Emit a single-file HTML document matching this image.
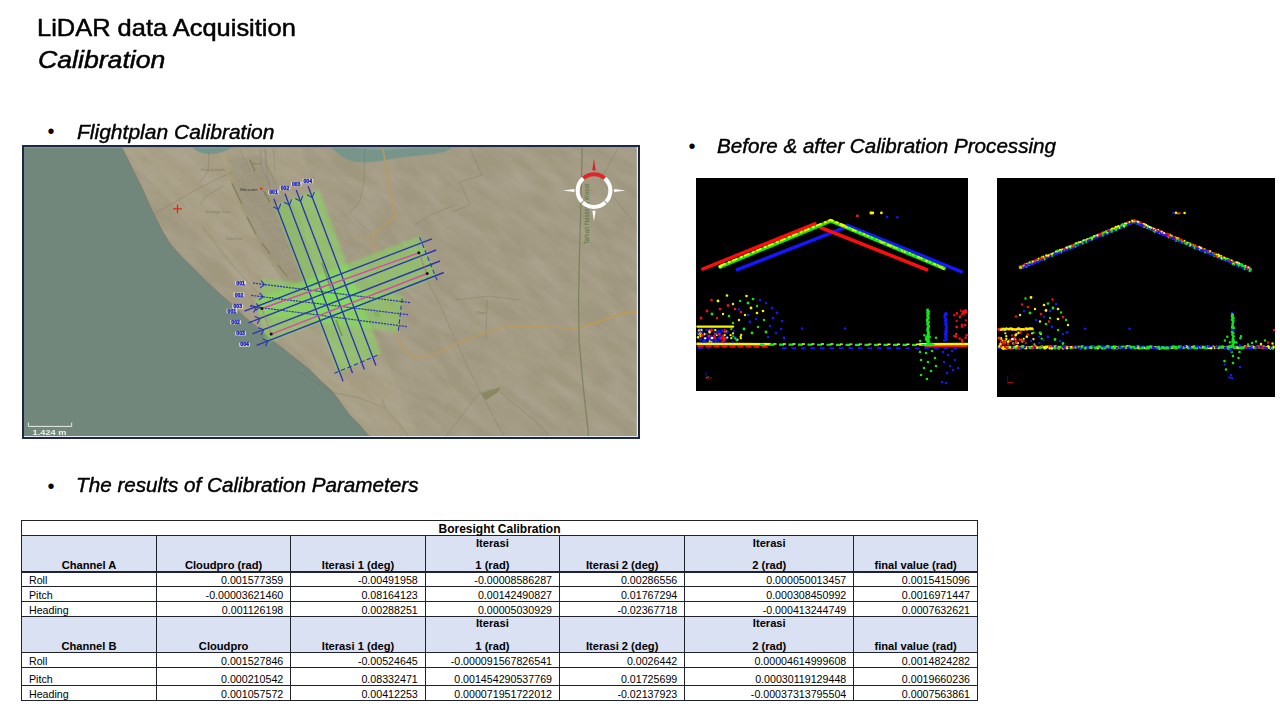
<!DOCTYPE html>
<html lang="en"><head><meta charset="utf-8"><title>LiDAR data Acquisition - Calibration</title>
<style>
html,body{margin:0;padding:0;background:#fff;}
body{width:1280px;height:720px;position:relative;overflow:hidden;font-family:"Liberation Sans",sans-serif;color:#000;}
.abs{position:absolute;white-space:nowrap;}
svg{position:absolute;display:block;}

.t1{left:37.2px;top:12.3px;font-size:24px;line-height:31px;transform-origin:0 0;transform:scaleX(1.06);-webkit-text-stroke:0.5px #000;}
.t2{left:37.8px;top:44.2px;font-size:24px;line-height:31px;font-style:italic;transform-origin:0 0;transform:scaleX(1.11);-webkit-text-stroke:0.5px #000;}
.bl{font-size:20px;line-height:24px;font-style:italic;transform-origin:0 0;-webkit-text-stroke:0.42px #000;}
.dot{font-size:20px;line-height:24px;}


.tb{position:absolute;left:0;top:0;font-size:10.67px;line-height:12px;}
.tb .c{position:absolute;white-space:nowrap;}
.tb .h{font-weight:bold;text-align:center;font-size:11.15px;}
.tb .tt{font-size:12px;}
.tb .r{text-align:right;}
.tb .ln{position:absolute;background:#20232b;}
.tb .bg{position:absolute;background:#dae1f3;}

</style></head><body>

<div class="abs t1" id="t1">LiDAR data Acquisition</div>
<div class="abs t2" id="t2">Calibration</div>
<div class="abs dot" style="left:47.6px;top:119px">•</div>
<div class="abs bl" id="b1" style="left:77.3px;top:119.5px;transform:scaleX(1.051)">Flightplan Calibration</div>
<div class="abs dot" style="left:688.4px;top:133.9px">•</div>
<div class="abs bl" id="b2" style="left:717px;top:133.5px;transform:scaleX(1.03)">Before &amp; after Calibration Processing</div>
<div class="abs dot" style="left:47.6px;top:473.9px">•</div>
<div class="abs bl" id="b3" style="left:75.9px;top:473.4px;transform:scaleX(1.034)">The results of Calibration Parameters</div>

<svg style="left:22px;top:145px" width="618" height="294" viewBox="22 145 618 294" font-family="Liberation Sans, sans-serif">
<defs>
<filter id="tex" x="0" y="0" width="100%" height="100%"><feTurbulence type="fractalNoise" baseFrequency="0.028 0.085" numOctaves="3" seed="7" result="n"/><feColorMatrix in="n" type="matrix" values="0 0 0 0 0.5  0 0 0 0 0.47  0 0 0 0 0.38  0.9 0.9 0 0 -0.62"/></filter>
<filter id="sf" x="-2%" y="-2%" width="104%" height="104%"><feGaussianBlur stdDeviation="0.45"/></filter>
<filter id="sf2" x="-2%" y="-2%" width="104%" height="104%"><feGaussianBlur stdDeviation="1.1"/></filter>
<filter id="tn" x="0" y="0" width="100%" height="100%"><feTurbulence type="fractalNoise" baseFrequency="0.45" numOctaves="2" seed="3"/><feColorMatrix type="matrix" values="0 0 0 0 0.33  0 0 0 0 0.3  0 0 0 0 0.22  1.6 1.2 0 0 -1.05"/></filter>
<clipPath id="tc"><path d="M228,156 L262,154 L284,196 L300,215 L322,292 L296,300 L262,250 L236,196 Z"/></clipPath>
<clipPath id="mc"><rect x="22" y="145" width="618" height="294"/></clipPath>
</defs>
<g clip-path="url(#mc)">
<rect x="22" y="145" width="618" height="294" fill="#a0977f"/>
<path d="M121,145 L300,145 L330,230 L420,439 L372,439 Z" fill="#b0a68a" opacity="0.35" filter="url(#sf2)"/>
<g transform="rotate(38 331 292)"><rect x="-30" y="-110" width="760" height="800" filter="url(#tex)" opacity="0.5"/></g>
<path d="M22,145 L120.6,145 L128.8,161.2 L136.2,176.2 L143.1,190 L150,206.2 L155,216.2 L162.5,231.2 L170,243.8 L181.2,256.2 L193.8,268.8 L206.2,281.2 L220,293.8 L232.5,305 L245,317.5 L256.2,326.2 L270,338.8 L285,350 L297.5,360 L309,369 L320,380.3 L330,389 L336,396.2 L343,406 L349.2,414.8 L360,425.5 L371.5,439 L22,439 Z" fill="#71877b"/>
<path d="M120.6,145 L128.8,161.2 L136.2,176.2 L143.1,190 L150,206.2 L155,216.2 L162.5,231.2 L170,243.8 L181.2,256.2 L193.8,268.8 L206.2,281.2 L220,293.8 L232.5,305 L245,317.5 L256.2,326.2 L270,338.8 L285,350 L297.5,360 L309,369 L320,380.3 L330,389 L336,396.2 L343,406 L349.2,414.8 L360,425.5 L371.5,439" fill="none" stroke="#7d7a68" stroke-width="0.9" opacity="0.8" filter="url(#sf)"/>
<path d="M190,145 C194,150 199,153.2 208.75,153.9 C218,154 228,151.5 235,145 Z" fill="#78958c"/>
<path d="M329,145 C336,152 341,157 348,160 C356,163 368,163.2 382.5,160.5 C395,158 410,156 432.5,154.2 C442,153 448,151 453.5,147 L454,145 Z" fill="#78958c"/>
<path d="M346,145 C360,150 385,152 412,147.5 L414,145 Z" fill="#8aa59a" opacity="0.55"/>
<g fill="none" stroke="#6f6a58" stroke-width="0.7" opacity="0.4" filter="url(#sf)">
<path d="M154,214 L178,200 L196,190 L215,180 L232,172"/>
<path d="M178,200 L186,208 M200,205 L205,197 L223,186"/>
<path d="M202,226 L230,262 L262,298"/>
<path d="M209,152 L208,172 L200,182"/>
<path d="M365,145 L364,180 L360,201 L350,212.5"/>
<path d="M353.75,217.5 L372.5,235"/>
<path d="M260,150 L262,170 L270,186 M266,150 L267,166 L276,184"/>
<path d="M415,225 L432,214 L455,205"/>
<path d="M418,245 L428,282 L440,305 L452,332 L470,372 L490,410 L505,439"/>
<path d="M455,300 L490,296 L520,300 M487,300 L486,340"/>
<path d="M300,372 L330,392 L360,398 L385,408 L400,425 L410,439"/>
<path d="M385,408 L382,399 M444,439 L478,394 L492,389"/>
<path d="M500,392 L540,425 L552,439 M620,145 L600,180 L640,230"/>
<path d="M240,150 L250,170 M470,148 L482,175 L460,182 L470,205 L452,212"/>
</g>
<g fill="none" filter="url(#sf)">
<path d="M226.2,153.6 L228.6,168 L231.8,182.5 L238,197 L245.7,215 L256,234 L268.75,252 L287.5,277 L300,292" stroke="#ab9c55" stroke-width="1.6" opacity="0.55"/>
<path d="M249.5,157.3 L258,176 L270.9,202.9" stroke="#ab9c55" stroke-width="1.4" opacity="0.5"/>
<path d="M226.6,157.3 L249.5,157.3" stroke="#b5a660" stroke-width="0.8" opacity="0.5"/>
<path d="M231.8,182.9 L242,203.9 M247,217 L256,234 M262,243 L270,254 M278,265 L287,276.5" stroke="#4f4a2c" stroke-width="1.1" opacity="0.5"/>
<path d="M249.9,160.1 L255,171.3 M263.4,190.8 L269.9,202" stroke="#4f4a2c" stroke-width="1.2" opacity="0.55"/>
<path d="M264.3,148 L267.1,175.9 L269.9,189 M273.7,148 L274.6,171.3" stroke="#6f6a58" stroke-width="0.6" opacity="0.45"/>
<path d="M232,168 L258,159 M236.2,176.2 L262.2,167.2 M240.4,184.4 L266.4,175.4 M244.6,192.6 L270.6,183.6 M248.8,200.8 L274.8,191.8 M253,209 L279,200 M257.2,217.2 L283.2,208.2 M261.4,225.4 L287.4,216.4 M265.6,233.6 L291.6,224.6 M269.8,241.8 L295.8,232.8 M274,250 L300,241 M278.2,258.2 L304.2,249.2 M282.4,266.4 L308.4,257.4 M286.6,274.6 L312.6,265.6 M236,166 L280,264 M240.4,164.4 L284.4,262.4 M244.8,162.8 L288.8,260.8 M249.2,161.2 L293.2,259.2 M253.6,159.6 L297.6,257.6 M258,158 L302,256 M262.4,156.4 L306.4,254.4" stroke="#5e5a48" stroke-width="0.5" opacity="0.13"/>
</g>
<g clip-path="url(#tc)" opacity="0.5"><rect x="222" y="150" width="104" height="154" filter="url(#tn)"/></g>
<path d="M228,158 L262,156 L300,215 L320,290 L296,300 L262,250 L236,196 Z" fill="#8a846f" opacity="0.22" filter="url(#sf2)"/>
<path d="M382,145 L385,160 L390,190 L395,216.25 L372.5,235 L375,250 L380,270 L388,305 L395.7,332.5 L400,343 L405,351.1 L412,356 L421,357.7 L432,355 L458.1,343.1 L482,334 L506,325.9 L540,326.5 L575,328.5 L598,322 L620.1,313.9 L640,311" fill="none" stroke="#ba9a5e" stroke-width="1.6" opacity="0.9" filter="url(#sf)"/>
<path d="M372.5,235 L337.5,243.75 L281.25,261.25" fill="none" stroke="#b49c66" stroke-width="1" opacity="0.5" filter="url(#sf)"/>
<path d="M575,328.5 L598,322 L620.1,313.9 L640,311" fill="none" stroke="#b99a60" stroke-width="2.3" opacity="0.85" filter="url(#sf)"/>
<path d="M582.3,145 L581,200 L579.3,260 L578.6,300 L579,340 L583,385 L588,430 L588.8,439" fill="none" stroke="#76825c" stroke-width="1.3" opacity="0.9" filter="url(#sf)"/>
<text transform="translate(588.6,244.5) rotate(-90)" font-size="6.3" fill="#4f7a3e" textLength="61" lengthAdjust="spacingAndGlyphs">Taman Nasional Wasur</text>
<path d="M480.7,393.6 L500.6,387 L498,392.3 L486,400.2 Z" fill="#8a8962" filter="url(#sf)"/>
<rect x="374" y="312" width="6" height="4.5" fill="#7f8f63" opacity="0.7" filter="url(#sf)"/>
<g fill="#78ee50" filter="url(#sf2)">
<path d="M274,204.9 L318.9,189.3 L380.9,353.5 L338.1,373.7 Z" opacity="0.39"/>
<path d="M255,299.6 L420,235.8 L437,277.3 L266.7,343.6 Z" opacity="0.39"/>
<path d="M261.7,278.1 L403.7,295.8 L398.2,332.5 L258.5,314.4 Z" opacity="0.36"/>
</g>
<path d="M322,263 L331,289" stroke="#5d7a48" stroke-width="1.6" opacity="0.6" fill="none" filter="url(#sf)"/>
<path d="M336,320 L342,336" stroke="#5d7a48" stroke-width="1.8" opacity="0.55" fill="none" filter="url(#sf)"/>
<g fill="none" stroke="#2c35b4" stroke-width="1.35" stroke-linecap="butt" filter="url(#sf)">
<path d="M273.8,198.8 L343.1,381.2"/>
<path d="M285,193.8 L352.5,373.1"/>
<path d="M296.2,190 L364.4,369.4"/>
<path d="M308.1,186.2 L375.9,365.6"/>
<path d="M244.4,311.2 L431.9,238.8"/>
<path d="M248.5,322.8 L436.2,250"/>
<path d="M252.5,333.8 L440,261"/>
<path d="M256.6,345.4 L443.8,272.5"/>
<path d="M253.1,283.1 L410,302.6" stroke-dasharray="2.1 0.9" stroke-width="1.2"/>
<path d="M251.2,295.4 L408.8,314.8" stroke-dasharray="2.1 0.9" stroke-width="1.2"/>
<path d="M250,306.2 L406.9,326.6" stroke-dasharray="2.1 0.9" stroke-width="1.2"/>
<path d="M280.7,203.8 L278.5,209.4 L273.2,206.7" stroke-width="1.1"/>
<path d="M291.6,199.4 L289.4,205 L284.1,202.2" stroke-width="1.1"/>
<path d="M302.8,195.7 L300.6,201.2 L295.3,198.5" stroke-width="1.1"/>
<path d="M314.4,191.9 L312.2,197.5 L306.9,194.7" stroke-width="1.1"/>
<path d="M250.8,305.2 L256.2,307.2 L253.6,312.4" stroke-width="1.1"/>
<path d="M254.6,316.4 L260,318.5 L257.4,323.7" stroke-width="1.1"/>
<path d="M258.3,327.7 L263.8,329.8 L261.1,334.9" stroke-width="1.1"/>
<path d="M262.7,338.9 L268.1,341 L265.5,346.2" stroke-width="1.1"/>
<path d="M261.1,280.6 L264.4,284.6 L260.2,287.7" stroke-width="1.1"/>
<path d="M259.8,292.8 L263.1,296.8 L258.9,299.9" stroke-width="1.1"/>
<path d="M256.4,303.3 L259.6,307.4 L255.4,310.5" stroke-width="1.1"/>
<path d="M334.5,373.3 L377.5,355.3" stroke-dasharray="4.5 2.5" stroke-width="1.1"/>
<path d="M419.6,237.2 L437.2,280.6" stroke-dasharray="4.5 2.5" stroke-width="1.1"/>
<path d="M402.1,298.5 L398.3,331.5" stroke-dasharray="4.5 2.5" stroke-width="1.1"/>
</g>
<g fill="none" stroke="#dc44ae" filter="url(#sf)">
<path d="M261.9,308.5 L418.8,252.8" stroke-width="1.35"/>
<path d="M271.2,334.1 L427.2,273.5" stroke-width="1.35"/>
<path d="M261.9,308.5 L271.25,334.1 M418.75,252.75 L427.25,273.5" stroke-width="0.7" opacity="0.8"/>
</g>
<circle cx="261.9" cy="308.5" r="1.5" fill="#1a0a14" filter="url(#sf)"/>
<circle cx="418.8" cy="252.8" r="1.5" fill="#1a0a14" filter="url(#sf)"/>
<circle cx="271.2" cy="334.1" r="1.5" fill="#1a0a14" filter="url(#sf)"/>
<circle cx="427.2" cy="273.5" r="1.5" fill="#1a0a14" filter="url(#sf)"/>
<g filter="url(#sf)">
<rect x="268.1" y="190.1" width="10.8" height="4.4" rx="0.8" fill="#e6e2be" opacity="0.92"/><text x="273.5" y="194" text-anchor="middle" font-size="4.9" font-weight="bold" fill="#1a1ed0" stroke="#1a1ed0" stroke-width="0.35" textLength="8.6" lengthAdjust="spacingAndGlyphs">001</text>
<rect x="279.6" y="185.9" width="10.8" height="4.4" rx="0.8" fill="#e6e2be" opacity="0.92"/><text x="285" y="189.8" text-anchor="middle" font-size="4.9" font-weight="bold" fill="#1a1ed0" stroke="#1a1ed0" stroke-width="0.35" textLength="8.6" lengthAdjust="spacingAndGlyphs">002</text>
<rect x="290.9" y="181.8" width="10.8" height="4.4" rx="0.8" fill="#e6e2be" opacity="0.92"/><text x="296.2" y="185.8" text-anchor="middle" font-size="4.9" font-weight="bold" fill="#1a1ed0" stroke="#1a1ed0" stroke-width="0.35" textLength="8.6" lengthAdjust="spacingAndGlyphs">003</text>
<rect x="302.4" y="178.8" width="10.8" height="4.4" rx="0.8" fill="#e6e2be" opacity="0.92"/><text x="307.8" y="182.8" text-anchor="middle" font-size="4.9" font-weight="bold" fill="#1a1ed0" stroke="#1a1ed0" stroke-width="0.35" textLength="8.6" lengthAdjust="spacingAndGlyphs">004</text>
<rect x="235.2" y="280.7" width="10.8" height="4.4" rx="0.8" fill="#e6e2be" opacity="0.92"/><text x="240.6" y="284.6" text-anchor="middle" font-size="4.9" font-weight="bold" fill="#1a1ed0" stroke="#1a1ed0" stroke-width="0.35" textLength="8.6" lengthAdjust="spacingAndGlyphs">001</text>
<rect x="233.6" y="292.6" width="10.8" height="4.4" rx="0.8" fill="#e6e2be" opacity="0.92"/><text x="239" y="296.5" text-anchor="middle" font-size="4.9" font-weight="bold" fill="#1a1ed0" stroke="#1a1ed0" stroke-width="0.35" textLength="8.6" lengthAdjust="spacingAndGlyphs">002</text>
<rect x="232.3" y="304.4" width="10.8" height="4.4" rx="0.8" fill="#e6e2be" opacity="0.92"/><text x="237.8" y="308.4" text-anchor="middle" font-size="4.9" font-weight="bold" fill="#1a1ed0" stroke="#1a1ed0" stroke-width="0.35" textLength="8.6" lengthAdjust="spacingAndGlyphs">003</text>
<rect x="226.5" y="308.7" width="10.8" height="4.4" rx="0.8" fill="#e6e2be" opacity="0.92"/><text x="231.9" y="312.6" text-anchor="middle" font-size="4.9" font-weight="bold" fill="#1a1ed0" stroke="#1a1ed0" stroke-width="0.35" textLength="8.6" lengthAdjust="spacingAndGlyphs">001</text>
<rect x="230.2" y="319.9" width="10.8" height="4.4" rx="0.8" fill="#e6e2be" opacity="0.92"/><text x="235.6" y="323.9" text-anchor="middle" font-size="4.9" font-weight="bold" fill="#1a1ed0" stroke="#1a1ed0" stroke-width="0.35" textLength="8.6" lengthAdjust="spacingAndGlyphs">002</text>
<rect x="235.2" y="331.2" width="10.8" height="4.4" rx="0.8" fill="#e6e2be" opacity="0.92"/><text x="240.6" y="335.1" text-anchor="middle" font-size="4.9" font-weight="bold" fill="#1a1ed0" stroke="#1a1ed0" stroke-width="0.35" textLength="8.6" lengthAdjust="spacingAndGlyphs">003</text>
<rect x="239.2" y="342.4" width="10.8" height="4.4" rx="0.8" fill="#e6e2be" opacity="0.92"/><text x="244.6" y="346.4" text-anchor="middle" font-size="4.9" font-weight="bold" fill="#1a1ed0" stroke="#1a1ed0" stroke-width="0.35" textLength="8.6" lengthAdjust="spacingAndGlyphs">004</text>
</g>
<g fill="#5f5b4c" opacity="0.5" filter="url(#sf)" lengthAdjust="spacingAndGlyphs">
<text x="201" y="171" font-size="4.2" textLength="24" lengthAdjust="spacingAndGlyphs">Karang Indah</text>
<text x="205.6" y="213.3" font-size="4.2" textLength="25" lengthAdjust="spacingAndGlyphs">Seringgu Jaya</text>
<text x="226.6" y="240.2" font-size="3.6" textLength="15.5" lengthAdjust="spacingAndGlyphs">Bambu Pemali</text>
<text x="252.5" y="164.8" font-size="3.8" textLength="8.5" lengthAdjust="spacingAndGlyphs">Maro</text>
<text x="476.5" y="313.8" font-size="3.8" textLength="10" lengthAdjust="spacingAndGlyphs">Wasur</text>
</g>
<text x="240.1" y="190.9" font-size="4.4" fill="#2c2a22" opacity="0.85" textLength="17.6" lengthAdjust="spacingAndGlyphs" filter="url(#sf)">Merauke</text>
<circle cx="261.3" cy="188.7" r="1.3" fill="#e0301c" filter="url(#sf)"/>
<path d="M173,208.8 H182 M177.5,204.4 V213.2" stroke="#e0281c" stroke-width="1.3" fill="none" filter="url(#sf)"/>
<g filter="url(#sf)">
<path d="M582.2,176.5 A18.4,18.4 0 0 1 605.8,176.5 L603.2,179.6 A14.3,14.3 0 0 0 584.8,179.6 Z" fill="#e0262a"/>
<path d="M606.3,176.9 A18.4,18.4 0 0 1 607.5,203.1 L604.5,200.4 A14.3,14.3 0 0 0 603.6,180 Z" fill="#ffffff"/>
<path d="M606.5,204.1 A18.4,18.4 0 0 1 581.5,204.1 L584.2,201.1 A14.3,14.3 0 0 0 603.8,201.1 Z" fill="#ffffff"/>
<path d="M580.5,203.1 A18.4,18.4 0 0 1 581.7,176.9 L584.4,180 A14.3,14.3 0 0 0 583.5,200.4 Z" fill="#ffffff"/>
<path d="M594,158.6 L595.7,170.6 L592.3,170.6 Z" fill="#d8242a"/>
<path d="M594,221.4 L595.6,210.8 L592.4,210.8 Z" fill="#fff"/>
<path d="M563,190.6 L574.4,189.1 L574.4,192.1 Z" fill="#fff"/>
<path d="M625.6,190.6 L614.2,189.1 L614.2,192.1 Z" fill="#fff"/>
</g>
<path d="M28.4,422.6 V426.4 H71.7 V422.6" fill="none" stroke="#e8ebe6" stroke-width="1" filter="url(#sf)"/>
<text x="32.6" y="435.3" font-size="8" font-weight="bold" fill="#f1f3ef" textLength="33.8" lengthAdjust="spacingAndGlyphs" filter="url(#sf)">1.424 m</text>
</g>
<path d="M23.5,148 H637.2 V436.6 H23.5" fill="none" stroke="#dfe3ea" stroke-width="1.4" opacity="0.0"/>
<path d="M24,147.4 H637.4" stroke="#8f9ea6" stroke-width="1" opacity="0.8" fill="none"/>
<path d="M637.6,147 V436.8 H24" stroke="#e9ecf2" stroke-width="1.5" fill="none"/>
<rect x="23" y="146" width="616" height="292" fill="none" stroke="#1d2846" stroke-width="2"/>
</svg>
<svg style="left:696px;top:178px" width="272" height="213" viewBox="696 178 272 213">
<defs><filter id="pb1" x="-2%" y="-2%" width="104%" height="104%"><feGaussianBlur stdDeviation="0.75"/></filter></defs>
<rect x="696" y="178" width="272" height="213" fill="#000"/>
<g filter="url(#pb1)">
<path d="M737.2,269.7 L843.4,228.1" stroke="#1414ff" stroke-width="3.5" stroke-linecap="round" fill="none"/>
<path d="M847.1,225.3 L961.2,271.6" stroke="#1414ff" stroke-width="3.5" stroke-linecap="round" fill="none"/>
<path d="M702.8,269 L814.9,223.8" stroke="#ff1010" stroke-width="3.5" stroke-linecap="round" fill="none"/>
<path d="M820.2,227.3 L926.6,269.6" stroke="#ff1010" stroke-width="3.5" stroke-linecap="round" fill="none"/>
<path d="M720.2,266.8 L830.8,220.9" stroke="#10e818" stroke-width="3.6" stroke-linecap="round" fill="none"/>
<path d="M830.8,220.9 L944,268.4" stroke="#10e818" stroke-width="3.6" stroke-linecap="round" fill="none"/>
<path d="M720,265.8 L830.8,219.8 L846,226" stroke="#f5f500" stroke-width="1.9" stroke-dasharray="6 2.5 3 1.5" stroke-linecap="butt" stroke-linejoin="round" fill="none"/>
<path d="M846,226.6 L944,267.8" stroke="#f5f500" stroke-width="1.3" stroke-dasharray="2 3.5 1.5 2" stroke-linecap="butt" fill="none" opacity="0.9"/>
<circle cx="720.2" cy="266.6" r="1.7" fill="#f5f500"/><circle cx="943.6" cy="268.2" r="1.6" fill="#10e818"/>
<path d="M697.5,343.9 L770,344.2" stroke="#f5f500" stroke-width="2.6" stroke-linecap="round" fill="none"/>
<path d="M697.5,346.7 L768,346.8" stroke="#ff1010" stroke-width="1.7" stroke-dasharray="6 2" fill="none"/>
<path d="M697.5,326.6 L733,326.6" stroke="#f5f500" stroke-width="2.4" stroke-linecap="round" fill="none"/>
<path d="M920,344.4 L967,344.2" stroke="#f5f500" stroke-width="2.8" stroke-linecap="round" fill="none"/>
<path d="M925,346.8 L967,346.6" stroke="#ff1010" stroke-width="1.5" stroke-linecap="round" fill="none"/>
<path d="M760,344.6 L925,345" stroke="#10e818" stroke-width="2.2" stroke-dasharray="5 4.5" fill="none"/>
<path d="M764,343.9 L925,344.3" stroke="#f5f500" stroke-width="1.4" stroke-dasharray="3 6.5" fill="none"/>
<path d="M698,348.2 L709,348.2 M782,348.2 L960,348.4" stroke="#1414ff" stroke-width="1.9" stroke-dasharray="4.5 5" fill="none"/>
<path d="M882.7,242.6h0M935.5,264.6h0M888.9,245.2h0M852.7,229.9h0M902.5,251.3h0M842.5,225.4h0M842.2,226h0M909.7,253.2h0M942,268.1h0M905.2,252.2h0M849.6,227.9h0M891.2,245.4h0M853.3,229.8h0M835.4,222.6h0M881.3,242.5h0M890.1,245.9h0M888,245h0M883.2,242.4h0M943.7,268.9h0M926.1,261.1h0M867.3,235.7h0M864.4,234.2h0M917.8,257.1h0M926.8,260.9h0M939.3,266.8h0M832.1,220.8h0M934,264h0M941.8,267.2h0M840.2,224.9h0M919.2,257.5h0M841.8,225.1h0M940,266.9h0M845.2,226.4h0M843.3,225.3h0M921.3,258.2h0M894.6,247.5h0M853.4,230.6h0M846.7,227.6h0M845,226.6h0M855.8,230.9h0" stroke="#f5f500" stroke-width="1.9" stroke-linecap="round" fill="none"/>
<path d="M857.4,215.9h0" stroke="#e02048" stroke-width="2.9" stroke-linecap="round" fill="none"/>
<path d="M871,212.9h0" stroke="#f5f500" stroke-width="3.1" stroke-linecap="round" fill="none"/>
<path d="M872.8,213h0M718,301h0M751,308h0" stroke="#f5f500" stroke-width="2.9" stroke-linecap="round" fill="none"/>
<path d="M881.4,212.9h0M726.7,331.8h0M709.6,332.2h0M698.1,337.3h0M724.1,338.6h0M717,334.7h0M704.6,334.1h0M698.6,333.4h0M701.5,332.1h0M712.4,341.8h0M709.5,338.4h0M727,295.5h0M746.5,296h0M757,313h0M763,311h0" stroke="#f5f500" stroke-width="2.7" stroke-linecap="round" fill="none"/>
<path d="M887,217h0M717.8,334h0M711.6,337.5h0M703.8,340.9h0M713.2,341.6h0M714.7,336.9h0M706.7,330.1h0M720.5,337.6h0M706.4,337.8h0M712.1,339.9h0M721.7,330.5h0M699.7,329.4h0M720.5,339.4h0M719.8,336h0M709.1,339.3h0M716,340.8h0M702.6,333.4h0M722,336.3h0M706.7,334h0M697.8,332.7h0M700.6,338.5h0M718.7,338.1h0M704.4,338.6h0M709.4,337.9h0M724.4,341.6h0M712.3,337.9h0M700.6,329.5h0M701.8,331.4h0M720.1,333.2h0M705.6,341.5h0M739,309.5h0M772,308h0M776,333h0M781,329h0M760,300h0M773,318h0M945.2,313.9h0M946.2,314.9h0M944.6,316.8h0M945.6,318.7h0M946.2,319.6h0M945.2,320.6h0M946,321.6h0M945.4,324.4h0M946.4,325.4h0M946.4,326.3h0M946.3,329.1h0M946.8,332h0M946,332.9h0M944.9,333.9h0M945.7,334.9h0M946.6,339.6h0M944.4,340.6h0" stroke="#1414ff" stroke-width="2.7" stroke-linecap="round" fill="none"/>
<path d="M897.3,217.3h0" stroke="#1414ff" stroke-width="2.6" stroke-linecap="round" fill="none"/>
<path d="M726.1,339.4h0M703,341.9h0M708.9,330h0M723.1,331.4h0M718.9,331.1h0M712.8,341.1h0M726.4,337.5h0M711.1,336h0M717.1,331.6h0M708.8,336.6h0M714.3,333h0M717.7,331.6h0M720.5,336h0M711.2,337.5h0M713.4,329.6h0M718.2,341.7h0M716.2,339.7h0M723,335.9h0M715.3,340.6h0M700.4,339.8h0M710.2,336.8h0M711.3,329.1h0M727.8,331.7h0M727.2,332.6h0M732.8,342.1h0M734.1,331.4h0M735.1,337.4h0M735.8,337.9h0M946.3,313h0M944.6,315.9h0M945,317.8h0M945.6,322.5h0M946.1,323.4h0M946.7,327.2h0M945.7,328.2h0M946.6,330.1h0M945,331.1h0M946.7,335.8h0M945.5,336.8h0M945.1,337.7h0M946.3,338.6h0" stroke="#1414ff" stroke-width="2.3" stroke-linecap="round" fill="none"/>
<path d="M715.2,333.8h0M700,335.2h0M725,338.4h0M724.6,331.8h0M722.6,341.6h0M709.6,330.5h0M724.8,330.2h0M702.8,334.9h0M721.2,338.2h0M724.4,338.7h0M723.9,340.4h0M714.3,335.9h0" stroke="#ff1010" stroke-width="2.3" stroke-linecap="round" fill="none"/>
<path d="M698.9,330.4h0M724.7,335.2h0M701.5,329.9h0M709.5,331.5h0M700.7,336h0M709.7,341.4h0M700.7,334.5h0M715.3,330.2h0M737.5,339.7h0M727.3,337.6h0M730.6,335.2h0M740.6,336.7h0M741.2,334.9h0M733,333.4h0M731.3,338.2h0M740.9,338.3h0" stroke="#f5f500" stroke-width="2.3" stroke-linecap="round" fill="none"/>
<path d="M719.3,334.1h0M723,336.4h0M723.5,338.5h0M708.8,335.8h0M701.9,335.7h0M714.6,338h0M711.5,330.7h0M711.5,300h0M720,309h0M735,309h0" stroke="#ff1010" stroke-width="2.7" stroke-linecap="round" fill="none"/>
<path d="M705.2,338.3h0" stroke="#ffffff" stroke-width="2.3" stroke-linecap="round" fill="none"/>
<path d="M712,338h0" stroke="#ffffff" stroke-width="2.7" stroke-linecap="round" fill="none"/>
<path d="M733.2,336.3h0M736.6,340.3h0M735.2,338.4h0M731.4,329.2h0" stroke="#10e818" stroke-width="2.3" stroke-linecap="round" fill="none"/>
<path d="M707,311h0M728,305.5h0M701,318h0" stroke="#ff1010" stroke-width="2.9" stroke-linecap="round" fill="none"/>
<path d="M717,318h0M741,312h0" stroke="#ff1010" stroke-width="2.4" stroke-linecap="round" fill="none"/>
<path d="M733,304h0M739,320h0M723,314h0M745,315h0" stroke="#f5f500" stroke-width="2.4" stroke-linecap="round" fill="none"/>
<path d="M712,314h0M748,303h0M744,329h0M752,333h0M766,332h0M927.6,310h0M928,313h0M928.5,313.8h0M927.6,319h0M927.3,320.5h0M928.1,322.8h0M928,323.5h0M927.5,324.2h0M928.5,326.5h0M927.9,328h0M927.8,329.5h0M927.9,331h0M928.1,331.8h0M928.1,333.2h0M928.1,334h0M928.6,334.8h0M928.4,337.8h0M928.4,338.5h0M927.5,340h0M927.7,341.5h0M928.1,342.2h0M927.9,343h0" stroke="#10e818" stroke-width="2.9" stroke-linecap="round" fill="none"/>
<path d="M740,301h0M757,306h0M733,323h0M764,320h0M758,327h0" stroke="#10e818" stroke-width="2.4" stroke-linecap="round" fill="none"/>
<path d="M753,299h0M729,316h0" stroke="#10e818" stroke-width="2.7" stroke-linecap="round" fill="none"/>
<path d="M748,315h0M756,319h0M766,303h0M782,321h0M770,326h0M768,337h0" stroke="#1414ff" stroke-width="2.4" stroke-linecap="round" fill="none"/>
<path d="M777,313h0M750,322h0M784,338h0" stroke="#1414ff" stroke-width="2.9" stroke-linecap="round" fill="none"/>
<path d="M802,328.5h0M845,328.5h0M943,352h0M948,355h0M952,351h0M944,362h0M950,366h0M955,360h0M947,373h0M953,370h0M958,368h0M942,382h0M946,383h0" stroke="#1414ff" stroke-width="2.5" stroke-linecap="round" fill="none"/>
<path d="M927.8,310.8h0M928.8,311.5h0M927.5,312.2h0M927.6,314.5h0M928.2,315.2h0M927.4,316h0M928,316.8h0M928.7,317.5h0M928.2,318.2h0M927.1,319.8h0M927.2,321.2h0M928.7,322h0M928,325h0M928.6,325.8h0M928.6,327.2h0M927.8,328.8h0M927.6,330.2h0M928.7,332.5h0M927.6,335.5h0M927.2,336.2h0M928.7,337h0M927.6,339.2h0M927.8,340.8h0M927.9,343.8h0M926.6,345.3h0M936,337.7h0M925.9,339h0M925.9,339.4h0M926.4,337.1h0M929.7,343.8h0M929.3,344.2h0M929.7,336.9h0M933.4,344.7h0M924.3,335.2h0M928.8,341h0M929.8,345.6h0M931.4,343.8h0M920.2,341h0" stroke="#10e818" stroke-width="2.5" stroke-linecap="round" fill="none"/>
<path d="M920,352h0M926,353h0M932,351h0M921,360h0M928,362h0M935,358h0M924,368h0M931,371h0M927,379h0M921,375h0M936,366h0" stroke="#10e818" stroke-width="2.6" stroke-linecap="round" fill="none"/>
<path d="M965.8,310.2h0M956.6,320.9h0M961.8,324.6h0M965.9,320.3h0M960.3,316.3h0M964.2,310.9h0M961.9,314.2h0M964,313.8h0M960.7,310.7h0M954,336.1h0M954.2,315.2h0" stroke="#ff1010" stroke-width="2.2" stroke-linecap="round" fill="none"/>
<path d="M959.7,338.5h0M956.2,334h0M962.1,340.1h0M965.1,325h0M956.8,313.4h0M966.7,335.2h0M965.6,337.8h0M959.9,317.1h0M962.3,341.8h0M964.7,311.7h0M962,326.4h0M963,311.7h0M965.9,312h0M956.7,326.9h0M956,336.5h0" stroke="#ff1010" stroke-width="2.6" stroke-linecap="round" fill="none"/>
<path d="M706,372 V378" stroke="#1414ff" stroke-width="0.9" opacity="0.7"/><path d="M706,378 H712" stroke="#ff1010" stroke-width="0.9" opacity="0.8"/><path d="M706,378 l3,-1.5" stroke="#f5f500" stroke-width="0.7" opacity="0.6"/>
</g></svg>
<svg style="left:997px;top:178px" width="278" height="219" viewBox="997 178 278 219">
<defs><filter id="pb2" x="-2%" y="-2%" width="104%" height="104%"><feGaussianBlur stdDeviation="0.75"/></filter></defs>
<rect x="997" y="178" width="278" height="219" fill="#000"/>
<g filter="url(#pb2)">
<path d="M1020.3,267.6 L1133.7,221.4" stroke="#3a8a30" stroke-width="3.4" stroke-linecap="round" fill="none"/>
<path d="M1133.7,221.4 L1250.4,269.6" stroke="#3a8a30" stroke-width="3.4" stroke-linecap="round" fill="none"/>
<path d="M998.5,347.3 L1274,347.5" stroke="#8aa628" stroke-width="2.0" stroke-linecap="round" fill="none"/>
<path d="M998.5,329.3 L1033,329.3" stroke="#f0a010" stroke-width="2.0" stroke-linecap="round" fill="none"/>
<path d="M1020.5,266.6h0M1026.6,263.9h0M1029.7,262.5h0M1037.9,260.1h0M1046.2,255.5h0M1047,256.3h0M1049.1,255.6h0M1059.1,250.7h0M1060,250h0M1071.3,246h0M1086.3,239.8h0M1087.8,239.2h0M1091.9,238.8h0M1095.6,235.9h0M1103.4,232.8h0M1111.2,229.7h0M1112.3,228.7h0M1115.7,226.9h0M1120.6,226.9h0M1121.9,224.6h0M1137.3,221.6h0M1143.1,223.8h0M1145,226.3h0M1147.6,225.9h0M1158.2,229.9h0M1170.3,234.8h0M1172,236.3h0M1176.6,238h0M1178.3,238.5h0M1184.4,240.9h0M1204.5,249.5h0M1210,251.2h0M1212.8,254.3h0M1218.4,254.6h0M1221.2,256.1h0M1225.6,258.7h0M1227.2,258.9h0M1006.3,339h0M1005.3,333.3h0M1013.2,343.5h0M1002.4,340.6h0M1016.1,342.5h0M1006.3,336.2h0M1007.8,343.1h0M1015.4,339.3h0M1018,343.1h0M1010.4,340.2h0M1023.7,338.8h0M1022.3,341.5h0M1021.1,339.8h0M1016.4,334.2h0M1005.3,341.1h0M1032.1,333.3h0M1033.5,339.2h0M1040.9,334h0M1034.2,344.2h0" stroke="#f5f500" stroke-width="2.3" stroke-linecap="round" fill="none"/>
<path d="M1021.2,267.3h0M1026.4,266.5h0M1034.8,261.6h0M1039.6,260.4h0M1041.2,259.5h0M1050.4,255h0M1051.9,254.4h0M1052.4,255.7h0M1057.2,250.7h0M1062.4,250.4h0M1064.1,250.1h0M1067.1,248.1h0M1068.5,246.7h0M1073.6,246.6h0M1076.7,245.5h0M1077,242.8h0M1078.3,244.5h0M1082.3,241.5h0M1085.1,241.3h0M1090,237.9h0M1089.6,239.5h0M1102.6,235.7h0M1105.8,233.1h0M1109.7,231.4h0M1111.7,230.7h0M1114.7,229.8h0M1115.9,229h0M1117.5,228.4h0M1120.1,226.2h0M1122.1,225.5h0M1123,224.4h0M1125,225.2h0M1126,225.4h0M1136,222.3h0M1137.8,223.5h0M1144.1,227h0M1147.1,228.1h0M1150.3,229.2h0M1151.2,228.2h0M1153.5,230.7h0M1154.9,231.9h0M1165.3,234.1h0M1170.7,236.7h0M1176,240.8h0M1176.9,239.5h0M1178.8,240.6h0M1182.1,241h0M1183.4,242.5h0M1185.4,243.6h0M1188.7,243.1h0M1189.5,245.8h0M1190.4,243.6h0M1193.1,245h0M1194.5,246.7h0M1194.4,248.1h0M1199.4,249.5h0M1205,252h0M1214.4,254.7h0M1214.2,255.8h0M1220.5,257.2h0M1221.8,259.2h0M1222.8,258.8h0M1224.3,258.6h0M1225.5,260.2h0M1226.3,259.6h0M1228.6,259.2h0M1232.2,261.8h0M1232.6,264.1h0M1236.9,264.4h0M1238.3,264.3h0M1240,265h0M1242.8,266.3h0M1244.4,267.2h0M1244.7,269.2h0M1249.7,271.2h0M1033.6,332.6h0M1041.7,338.7h0" stroke="#10e818" stroke-width="2.3" stroke-linecap="round" fill="none"/>
<path d="M1021.8,268.1h0M1022.6,266.2h0M1027.7,263.5h0M1029.4,265h0M1030.5,263.1h0M1036.2,260.8h0M1041.6,257.1h0M1044.1,257.9h0M1044.7,259.4h0M1045.7,257.9h0M1053.1,254.6h0M1059.5,251.3h0M1061.3,251.3h0M1061.2,252.6h0M1068.5,248.3h0M1070.4,246.9h0M1070.5,248.2h0M1071.4,246.9h0M1074.4,244.6h0M1075.4,246.8h0M1079.4,243.2h0M1081.2,242.5h0M1082.6,242.3h0M1082.8,243.5h0M1084.9,240.1h0M1086.1,242.3h0M1091.1,237.5h0M1091.8,239.7h0M1092.6,237.3h0M1094.3,237.4h0M1102,234.4h0M1103.8,233.1h0M1104.4,232.1h0M1106.1,231h0M1107.3,233.7h0M1108.8,232.3h0M1111.8,232h0M1113.1,229.7h0M1114.7,230.6h0M1116.4,230.1h0M1119.6,228.5h0M1124.1,227.2h0M1127.2,223.7h0M1128.8,223.9h0M1130.1,223h0M1131.4,222.2h0M1138.6,223.9h0M1146.2,226.2h0M1148.2,227.3h0M1150,228.2h0M1152.4,228.2h0M1157,230.2h0M1159.7,233.2h0M1163.3,233.4h0M1168.6,237.6h0M1175.3,237h0M1180.1,240.6h0M1182.4,242.7h0M1185.1,242.5h0M1186.3,243.4h0M1186.9,244.2h0M1189.7,244.9h0M1192.6,246h0M1195.6,247.4h0M1196.8,247.8h0M1200.3,249.1h0M1209.3,252.9h0M1211.5,252.7h0M1217.7,257.2h0M1229.8,260.5h0M1234.7,264.7h0M1239.1,266.1h0M1241.3,264.1h0M1242,265.8h0M1242.2,264.5h0M1243.8,265.9h0M1245.8,268.2h0M1249.6,269.1h0" stroke="#10e818" stroke-width="2.0" stroke-linecap="round" fill="none"/>
<path d="M1021.6,265.9h0M1023.9,264.6h0M1024.9,263.8h0M1027.1,264.9h0M1031.2,261.3h0M1033.3,261.8h0M1034.4,260.7h0M1037.5,259.2h0M1042.2,258.8h0M1049.5,254.7h0M1063.3,249.1h0M1065.8,249.3h0M1072.4,245.5h0M1098.6,234.4h0M1099,235.7h0M1107.8,230.5h0M1109.3,230h0M1131,221.7h0M1135.5,220.4h0M1140,222.2h0M1141.6,223.4h0M1144,226h0M1152.6,229.1h0M1155.3,229h0M1162.1,232.6h0M1162.9,232.1h0M1167.5,233.6h0M1169.1,234.5h0M1173.9,237h0M1179.6,239h0M1181.5,239.7h0M1191.8,244.5h0M1196.6,246.7h0M1198.2,247.2h0M1206.9,251h0M1208.6,251.3h0M1213.5,253.2h0M1222.8,256.9h0M1235,262.3h0M1000.8,341.8h0M1025.8,343.3h0M1013.5,339.8h0M1000.5,337.8h0M1016.3,342h0M1004.1,340.8h0M1005,343.7h0M1001.3,341.5h0M1011.9,335.5h0M1021.2,340.5h0M1004.8,342h0M1013.6,344.1h0M1019.4,339.5h0" stroke="#ff1010" stroke-width="2.3" stroke-linecap="round" fill="none"/>
<path d="M1023.2,268.3h0M1025.8,265.1h0M1027.6,266.5h0M1029.2,264.6h0M1030.7,264.7h0M1032.4,264.4h0M1035.3,263h0M1037.2,262.1h0M1038.7,261.9h0M1039.6,260.4h0M1047.3,257.6h0M1049.3,257h0M1072.2,248.3h0M1084.6,242.3h0M1096.5,236.3h0M1106,234.2h0M1113.9,230.3h0M1118.5,229.3h0M1122.6,227.5h0M1127.7,225.3h0M1128.9,224.3h0M1130.6,223.6h0M1131.8,223.5h0M1135,223.2h0M1136.2,223.3h0M1140.9,224.8h0M1141.1,225.1h0M1142.5,225h0M1142.4,226.4h0M1146,227.7h0M1149.1,229h0M1151.6,230.1h0M1154.3,230.2h0M1159,231.5h0M1160.4,231.9h0M1162.5,235h0M1164.3,235.2h0M1165.2,235.3h0M1166.9,234.6h0M1172.4,237.7h0M1173.3,238.8h0M1174.1,238.2h0M1180.5,242.3h0M1183.4,243.2h0M1191.6,246h0M1196.2,248.5h0M1198.5,248.1h0M1200.7,250.8h0M1201.7,249.8h0M1202.4,250.8h0M1203.3,250.4h0M1204.7,250.6h0M1206.5,250.9h0M1206.6,253.2h0M1209.9,254.1h0M1211,253.5h0M1211.5,255h0M1212.8,254.9h0M1215.2,255.6h0M1220.4,258.3h0M1223.7,260h0M1226.5,260.9h0M1228.1,261.6h0M1039.4,336.7h0M1040.7,332.3h0M1031.1,340.9h0M1043.4,340.1h0M1033.5,343.8h0M1039.5,343.2h0" stroke="#1414ff" stroke-width="2.3" stroke-linecap="round" fill="none"/>
<path d="M1024.1,266.1h0M1038.8,258.5h0M1043.2,256.4h0M1051.5,254h0M1052.8,253.4h0M1054.6,252.9h0M1055.8,251.6h0M1057.5,252.4h0M1062,249.4h0M1075.7,243.3h0M1078.8,242.2h0M1087.1,240.5h0M1092.7,238.1h0M1094,236h0M1097.3,236.6h0M1107,232.2h0M1114.1,228.5h0M1117.1,226.8h0M1118.4,226h0M1119.5,227.7h0M1123.8,225.9h0M1126.2,223.3h0M1129.3,222.1h0M1132.1,220.4h0M1132.9,221.9h0M1134.3,221.4h0M1144.6,223.9h0M1151.2,227.4h0M1155.6,230.5h0M1187.5,242.7h0M1190.5,245.1h0M1216.5,254.5h0M1218.7,256.6h0M1219.4,255.6h0M1221.3,257.9h0M1224.3,257.4h0M1231.7,260.3h0M1233.8,263.2h0M1239.4,263.2h0M1245.6,265.8h0" stroke="#f5f500" stroke-width="2.0" stroke-linecap="round" fill="none"/>
<path d="M1024.6,266.8h0M1033.6,264h0M1041.6,260.1h0M1043.1,259.9h0M1046.2,258.2h0M1050.7,256.1h0M1053.6,255h0M1054.7,253.3h0M1055.6,254.2h0M1056.4,253.5h0M1056.9,254.1h0M1058.3,253h0M1060.3,252.4h0M1063,251.1h0M1064.5,251.2h0M1066.2,250.3h0M1067.8,250h0M1069.1,248.7h0M1074.2,247.4h0M1076.3,245.5h0M1077.9,245.7h0M1079.5,244.2h0M1080.8,243.6h0M1083.8,242.2h0M1087.5,241h0M1088.1,240.2h0M1089,240.6h0M1090.2,240h0M1093.7,238.7h0M1095.3,238.3h0M1096.7,237.5h0M1097.9,237.5h0M1099.7,236.4h0M1101.5,235.8h0M1104.6,234.5h0M1108.3,231.4h0M1110.3,232.2h0M1121.2,227.6h0M1133.5,223.1h0M1137.6,224.1h0M1139.5,224.7h0M1156.1,232.2h0M1158.2,232.8h0M1161,233.8h0M1166.8,236.2h0M1170.5,237.3h0M1171.9,238.7h0M1175.1,240.1h0M1177.5,240.7h0M1179.8,241.2h0M1188.3,244.2h0M1188.5,244.9h0M1193,247.5h0M1197.7,248.9h0M1203.3,251h0M1208,253.5h0M1216.2,257.1h0M1218.7,258.3h0M1229.6,262.6h0M1230.7,261.8h0M1231.4,262.6h0M1235.8,264.7h0M1237.1,265.9h0M1240.2,266.4h0M1241.8,267.8h0M1243.3,268.1h0M1246.2,268.9h0M1248.1,269.4h0" stroke="#1414ff" stroke-width="2.0" stroke-linecap="round" fill="none"/>
<path d="M1032.1,263.3h0M1036.1,259.8h0M1040.1,258.5h0M1045.2,256.7h0M1064.9,248.6h0M1075,245.4h0M1100.2,234.2h0M1100.8,234.7h0M1101.6,232.5h0M1127.7,222.3h0M1134,219.8h0M1157.1,230.5h0M1159.8,230.7h0M1165.9,234h0M1168.1,236.2h0M1169.4,236.7h0M1175.4,238.5h0M1182.9,240.6h0M1185.7,241.8h0M1195.2,245h0M1202.8,248.9h0M1205.7,249.6h0M1207.8,251.6h0M1214.6,253.2h0M1216.5,256.3h0M1227.9,259.8h0M1229.8,260.2h0M1233.4,261.7h0M1235.3,263.5h0M1246.9,266.8h0M1247.6,268.7h0M1250.2,267.8h0" stroke="#ff1010" stroke-width="2.0" stroke-linecap="round" fill="none"/>
<path d="M1032.8,261.5h0M1080.3,242.1h0M1083.5,240.3h0M1124.8,223.6h0M1138.4,221.8h0M1146.2,224.7h0M1153.8,228.6h0M1164.2,233h0M1236.4,262.2h0M1237.9,262.6h0" stroke="#ffe9a0" stroke-width="2.0" stroke-linecap="round" fill="none"/>
<path d="M1048.4,255.5h0M1066.6,247.5h0M1069.8,246.6h0M1097.4,235.2h0M1149.6,227h0M1161.6,231.6h0M1199.5,247h0M1201.2,247.9h0M1248.5,267.3h0" stroke="#ffe9a0" stroke-width="2.3" stroke-linecap="round" fill="none"/>
<path d="M1020.6,267.6h0" stroke="#ffb000" stroke-width="2.9" stroke-linecap="round" fill="none"/>
<path d="M1250.2,269.6h0M1224.9,340.6h0M1227.3,336.7h0M1234.3,342h0M1240.3,338.3h0M1241.7,348.1h0M1231.7,351.9h0M1232.9,344.1h0M1236.4,342.6h0M1233.7,346.2h0M1229.9,342.2h0M1230.9,346.5h0M1241,336.2h0M1229.7,347h0M1229.5,349.2h0M1237.5,347.5h0M1252,343h0M1256,341.5h0M1265,340.5h0M1248,344.5h0" stroke="#10e818" stroke-width="2.5" stroke-linecap="round" fill="none"/>
<path d="M1173.4,213.3h0M1236.6,346.5h0M1239.8,345.1h0M1236.7,346.3h0M1232.7,343.7h0M1231.2,351.2h0M1239.1,348.5h0M1230.4,350.3h0" stroke="#1414ff" stroke-width="2.5" stroke-linecap="round" fill="none"/>
<path d="M1176,212.8h0M1002.9,347.4h0M1006,347.9h0M1006.2,348.4h0M1008.3,347.6h0M1012.8,347.9h0M1022.7,346.5h0M1023.9,346.8h0M1029.2,347.4h0M1035.5,346.5h0M1045,348.3h0M1063.2,348.3h0M1066.9,348.2h0M1072.8,347.3h0M1129.3,346.7h0M1155.2,347.3h0M1159.1,348.4h0M1187.7,347h0M1190.4,347.4h0M1213.1,346.9h0M1214.2,347.9h0M1222,347h0M1223.2,347h0M1226.8,347.1h0M1261.6,346.8h0M1266.3,347.6h0M1269.1,347.6h0M1270.6,348.3h0M1015.6,335.2h0M1001,338.4h0M1000.5,344.1h0M1008.4,341.4h0M999,338h0M1018.6,332.8h0M1005.1,341.3h0M1026.8,336.7h0M1044,305h0M1058,309h0M1058,319h0" stroke="#f5f500" stroke-width="2.7" stroke-linecap="round" fill="none"/>
<path d="M1179.5,213.2h0" stroke="#ff1010" stroke-width="2.6" stroke-linecap="round" fill="none"/>
<path d="M1184.6,213h0" stroke="#f5f500" stroke-width="2.6" stroke-linecap="round" fill="none"/>
<path d="M1177.8,213.6h0" stroke="#10e818" stroke-width="1.9" stroke-linecap="round" fill="none"/>
<path d="M998.7,347.6h0M1016.2,348.1h0M1039.4,348h0M1065.1,347.1h0M1076.9,346.6h0M1077.8,346.5h0M1078.5,347.2h0M1094.6,346.7h0M1100.5,347.2h0M1105.9,348.3h0M1119.6,346.4h0M1126.3,346.6h0M1131,348.2h0M1143.2,346.7h0M1151.1,347h0M1157.3,348.2h0M1165.5,348.2h0M1169,347.4h0M1189.6,346.5h0M1191.3,348.3h0M1195.2,346.7h0M1197.3,346.6h0M1198.7,347.1h0M1199.3,348h0M1202.1,346.5h0M1211.2,347.3h0M1212.8,347.8h0M1230.7,348.2h0M1233.8,346.5h0M1247,347.3h0M1253,347.7h0M1271.1,347.5h0" stroke="#1414ff" stroke-width="3.0" stroke-linecap="round" fill="none"/>
<path d="M999.6,346.3h0M1002.6,348h0M1003.6,348.4h0M1017.2,346.3h0M1025.6,347.9h0M1030.5,347.7h0M1032,347.1h0M1051.8,348.3h0M1053.8,346.7h0M1055.9,346.5h0M1059,347.3h0M1068.1,347.3h0M1069.9,347.6h0M1091.1,347.5h0M1108.5,346.7h0M1123.7,347.1h0M1125.2,347.7h0M1127.3,346.6h0M1136.6,347.1h0M1139,348.1h0M1152,347.1h0M1172,347.6h0M1186.4,346.5h0M1208.2,347.5h0M1232.2,346.5h0M1236.2,347.6h0M1238.4,347.8h0M1245.1,346.5h0M1248.5,346.7h0M1263.9,346.7h0M1268.2,346.6h0" stroke="#f5f500" stroke-width="3.0" stroke-linecap="round" fill="none"/>
<path d="M1000.9,346.7h0M1009.1,346.9h0M1016,348.1h0M1020,348.2h0M1042.2,346.4h0M1043.3,347.2h0M1049.1,346.6h0M1061.2,346.8h0M1070.9,348.1h0M1093.8,347h0M1098.8,346.8h0M1104.6,348.1h0M1111.4,347.1h0M1114.4,348.4h0M1117.1,348.4h0M1120.8,347.8h0M1125.7,347.3h0M1133.3,347.2h0M1134.9,348.2h0M1138.1,346.3h0M1139.9,348.2h0M1143.8,347.6h0M1156.5,347.9h0M1161,348.3h0M1170.9,347.5h0M1173.3,346.7h0M1175.6,348.2h0M1180.9,346.5h0M1193.8,346.4h0M1196.9,348.1h0M1200.2,347.3h0M1202.6,347.3h0M1207.5,346.7h0M1216.5,346.8h0M1222.5,346.5h0M1224.2,348.1h0M1227.6,348.3h0M1228.2,348h0M1236.7,348h0M1254.3,347.7h0M1256,347.4h0M1259.6,346.5h0M1048,303.5h0M1046,324h0" stroke="#10e818" stroke-width="2.7" stroke-linecap="round" fill="none"/>
<path d="M1001.2,346.5h0M1018.7,347.3h0M1033.8,346.4h0M1057.6,347.9h0M1073.9,347.2h0M1255.5,347h0M1258.1,346.4h0M1265,348.1h0M1022,304.5h0M1052.5,299.5h0" stroke="#ff1010" stroke-width="2.4" stroke-linecap="round" fill="none"/>
<path d="M1005.2,346.8h0M1011.6,348h0M1031.3,348h0M1032.8,348.2h0M1036.1,347.9h0M1037.8,347.3h0M1041.2,346.6h0M1048,346.6h0M1059.7,348.1h0M1065.7,346.6h0M1249.4,348.1h0M1257.4,346.4h0M1023.5,341h0M1010.7,340.9h0M1014.6,337.9h0M999.4,338.1h0M1003.2,343.4h0M1020.7,332.6h0M1027.7,334.7h0M1008,344h0M1010.3,340.2h0M1004.8,341.5h0M1016.4,341.5h0M1016,316.5h0M1028,307h0M1063,317h0M1041,314h0M1049,321.5h0" stroke="#ff1010" stroke-width="2.7" stroke-linecap="round" fill="none"/>
<path d="M1007.1,348.3h0M1010.7,348.2h0M1018.4,348.2h0M1051,346.4h0M1072.3,346.9h0M1245.8,347.1h0M1260.4,346.5h0M1262.9,347.4h0" stroke="#ff1010" stroke-width="3.0" stroke-linecap="round" fill="none"/>
<path d="M1010,347.4h0M1015.1,346.8h0M1021.6,346.6h0M1026.1,348h0M1027.3,347.7h0M1037.1,347.8h0M1040.5,347.6h0M1043.8,347.4h0M1045.4,346.8h0M1046.2,347.5h0M1047.1,346.7h0M1049.7,348.3h0M1052.3,347.2h0M1067.1,347.7h0M1071.3,347.1h0M1079.3,347h0M1097,347.6h0M1097.9,348.2h0M1113.4,346.6h0M1115.9,347.2h0M1118.6,347.3h0M1137.4,347.2h0M1145.2,348.1h0M1186.1,346.5h0M1192.6,347.1h0M1203.2,347h0M1210,348.1h0M1211.4,348.3h0M1215.4,347.5h0M1218.6,348.1h0M1232.8,346.5h0M1237.3,347.5h0M1251.4,346.4h0M1253.2,346.6h0M1267.4,348.1h0M1272.9,348.2h0M1273.5,346.7h0M1020,315h0M1035,309h0M1040,321.5h0M1068,325h0" stroke="#f5f500" stroke-width="2.4" stroke-linecap="round" fill="none"/>
<path d="M1012.5,346.9h0M1028.1,347.8h0M1035,347.7h0M1052.9,346.3h0M1056.6,346.6h0M1069,347.5h0M1074.6,346.4h0M1087.3,347.6h0M1088.6,347.3h0M1089,348h0M1102.9,347.8h0M1103.7,346.5h0M1107.8,347.4h0M1110,347h0M1117,348.3h0M1119.4,347h0M1121.6,348.2h0M1132.4,348.2h0M1146,346.7h0M1155.6,348.4h0M1159.8,347h0M1162.1,347.1h0M1164.7,347h0M1169.7,347h0M1181.4,346.8h0M1182.5,347.9h0M1196.2,346.6h0M1201.1,346.3h0M1217.7,346.7h0M1220.3,347.2h0M1226.1,347.5h0M1239.3,346.3h0M1242.1,348.3h0M1244.7,348.4h0M1250.1,348.4h0M1251.5,346.5h0M1261,347h0M1264.7,347.5h0M1267,348.1h0M1024,311h0M1056,304h0M1063,334h0M1044,317h0M1233.4,322.9h0M1232.5,324.6h0M1232.8,325.4h0M1233.6,330.5h0M1233.6,331.4h0M1232.6,333.9h0M1233.1,337.3h0M1232.2,346.6h0" stroke="#1414ff" stroke-width="2.4" stroke-linecap="round" fill="none"/>
<path d="M1014.1,347.5h0M1060.3,347.3h0M1075.5,347.5h0M1080.5,348.4h0M1082.4,346.3h0M1085,348.2h0M1092.3,346.4h0M1097.7,346.8h0M1109.4,347.2h0M1115.2,346.5h0M1122.1,346.6h0M1130,346.4h0M1134,347h0M1148,347.4h0M1149,348.3h0M1163,347.4h0M1172.6,346.7h0M1174.1,347.4h0M1175,346.6h0M1177.1,346.9h0M1177.3,348.2h0M1183.7,348.1h0M1184.1,347.1h0M1188.1,348.2h0M1192,347.6h0M1206.5,348.2h0M1219.7,346.8h0M1221.1,347.6h0M1230.6,347h0M1272,348h0M1025.5,298.5h0M1061,312.5h0M1058,330h0M1066,320h0M1050,318h0M1232.8,315.2h0M1233.4,317.8h0M1231.9,319.4h0M1232.2,320.3h0M1233.1,322h0M1232,328.8h0M1233.5,333.1h0M1232.3,334.8h0M1232.9,335.6h0M1232.9,338.1h0M1232.7,339h0M1233.6,343.2h0" stroke="#10e818" stroke-width="2.4" stroke-linecap="round" fill="none"/>
<path d="M1020.9,348.2h0M1024.6,347.2h0M1062.5,346.4h0M1063.9,347.6h0M1079.9,347.8h0M1083,346.9h0M1084.2,346.7h0M1086.3,347.8h0M1093.3,346.4h0M1102,346.4h0M1110.6,347.7h0M1123.9,347.9h0M1128.3,347.7h0M1136.2,346.5h0M1141,346.5h0M1141.4,346.9h0M1152.8,347.6h0M1153.1,347.3h0M1153.8,347.8h0M1168.5,347.1h0M1178.5,346.9h0M1179.8,348.3h0M1185.2,346.3h0M1205.3,346.4h0M1206.1,346.5h0M1209.1,346.4h0M1216.1,347.4h0M1225.2,348.1h0M1235.1,347.6h0M1243,347.9h0M1248.1,347.8h0M1257,347.5h0M1050,311h0M1036,320h0M1060,341h0" stroke="#1414ff" stroke-width="2.7" stroke-linecap="round" fill="none"/>
<path d="M1022.5,346.8h0M1030,347.5h0M1039.5,347.5h0M1054.9,348h0M1058.6,348.3h0M1081.9,346.5h0M1085.4,348h0M1090.2,347.2h0M1091.2,347h0M1095.7,347.9h0M1099.7,346.7h0M1102.3,348.2h0M1107,346.5h0M1112.2,347.6h0M1131.3,347.3h0M1142.2,348.1h0M1146.8,348.2h0M1147.7,347h0M1150.2,346.6h0M1158.7,346.9h0M1162.3,347.6h0M1164.5,348.1h0M1166.6,347.9h0M1167.8,347.9h0M1179,346.8h0M1194.6,347.7h0M1204.4,347.6h0M1229.3,346.4h0M1234.6,347.8h0M1240,347.8h0M1241.1,348h0M1243.4,347.6h0" stroke="#10e818" stroke-width="3.0" stroke-linecap="round" fill="none"/>
<path d="M999.2,329.7h0M999.5,328.9h0M1001.5,328.5h0M1007.1,328.8h0M1009.7,329.5h0M1014.1,329.3h0M1016.2,328.9h0M1024.8,329h0M1024.9,329.5h0M1028.6,329.1h0M1268,342.5h0M1274,330h0" stroke="#ff1010" stroke-width="2.5" stroke-linecap="round" fill="none"/>
<path d="M1001,329.7h0M1002,329.5h0M1003.6,328.7h0M1004.1,329.4h0M1004.5,329.4h0M1005.5,329.6h0M1006.2,328.4h0M1008.4,329.1h0M1009.1,329h0M1010.7,328.5h0M1011.9,328.8h0M1012.2,329.6h0M1013.3,329.2h0M1015,329.5h0M1016.5,329.5h0M1018,328.5h0M1018.3,328.8h0M1019.1,328.4h0M1020.6,329.4h0M1021,329.5h0M1021.5,329.2h0M1022.9,329.2h0M1023.7,329.4h0M1025.9,328.5h0M1026.9,329.3h0M1027.9,328.8h0M1029.6,328.4h0M1030.6,328.4h0M1031.5,328.8h0M1032,328.4h0M1261,344h0M1272.5,343.5h0" stroke="#f5f500" stroke-width="2.5" stroke-linecap="round" fill="none"/>
<path d="M1012.4,339h0" stroke="#ffffff" stroke-width="2.7" stroke-linecap="round" fill="none"/>
<path d="M1031,297.5h0M1046,310.5h0" stroke="#f5f500" stroke-width="2.9" stroke-linecap="round" fill="none"/>
<path d="M1030,313h0M1053,308h0M1040,333h0M1055,339.5h0M1063,343.5h0" stroke="#10e818" stroke-width="2.9" stroke-linecap="round" fill="none"/>
<path d="M1052,327h0M1067,332.5h0M1048,337h0" stroke="#1414ff" stroke-width="2.9" stroke-linecap="round" fill="none"/>
<path d="M1085.2,328.7h0M1129.6,328.7h0M1224.8,364.5h0M1240,367h0M1229.5,377.5h0M1232,378h0M1231,375h0" stroke="#1414ff" stroke-width="2.6" stroke-linecap="round" fill="none"/>
<path d="M1232,313.5h0M1232,329.6h0M1232.5,344.1h0" stroke="#1414ff" stroke-width="2.8" stroke-linecap="round" fill="none"/>
<path d="M1232.4,314.4h0M1232,316.1h0M1232.3,316.9h0M1233.3,318.6h0M1233.2,321.1h0M1232.7,323.7h0M1232.6,326.2h0M1232.2,327.1h0M1233.7,327.9h0M1232.1,332.2h0M1233.6,336.4h0M1233.5,339.9h0M1232.8,340.7h0M1232.7,341.6h0M1233.4,342.4h0M1233,344.9h0M1232.1,345.8h0" stroke="#10e818" stroke-width="2.8" stroke-linecap="round" fill="none"/>
<path d="M1224.5,361h0M1226,369.5h0M1238.5,358h0M1233,356h0M1233,363h0M1239.5,352h0" stroke="#10e818" stroke-width="2.6" stroke-linecap="round" fill="none"/>
<path d="M1007.4,376 V382.6" stroke="#1414ff" stroke-width="0.9" opacity="0.7"/><path d="M1007.4,382.6 H1013.5" stroke="#ff1010" stroke-width="0.9" opacity="0.8"/>
</g></svg>
<div class="tb">
<div class="bg" style="left:21.5px;top:535.6px;width:956.0px;height:36.39999999999998px"></div>
<div class="bg" style="left:21.5px;top:616.3px;width:956.0px;height:36.200000000000045px"></div>
<div class="ln" style="left:20.9px;top:519.6px;width:957.2px;height:1.2px"></div>
<div class="ln" style="left:20.9px;top:535.0px;width:957.2px;height:1.2px"></div>
<div class="ln" style="left:20.9px;top:571.4px;width:957.2px;height:1.2px"></div>
<div class="ln" style="left:20.9px;top:585.9px;width:957.2px;height:1.2px"></div>
<div class="ln" style="left:20.9px;top:600.6999999999999px;width:957.2px;height:1.2px"></div>
<div class="ln" style="left:20.9px;top:615.6999999999999px;width:957.2px;height:1.2px"></div>
<div class="ln" style="left:20.9px;top:651.9px;width:957.2px;height:1.2px"></div>
<div class="ln" style="left:20.9px;top:666.9px;width:957.2px;height:1.2px"></div>
<div class="ln" style="left:20.9px;top:684.9px;width:957.2px;height:1.2px"></div>
<div class="ln" style="left:20.9px;top:699.6999999999999px;width:957.2px;height:1.2px"></div>
<div class="ln" style="left:20.9px;top:520.2px;width:1.2px;height:180.0999999999999px"></div>
<div class="ln" style="left:155.9px;top:535.6px;width:1.2px;height:164.69999999999993px"></div>
<div class="ln" style="left:290.15px;top:535.6px;width:1.2px;height:164.69999999999993px"></div>
<div class="ln" style="left:424.65px;top:535.6px;width:1.2px;height:164.69999999999993px"></div>
<div class="ln" style="left:558.9px;top:535.6px;width:1.2px;height:164.69999999999993px"></div>
<div class="ln" style="left:684.15px;top:535.6px;width:1.2px;height:164.69999999999993px"></div>
<div class="ln" style="left:853.15px;top:535.6px;width:1.2px;height:164.69999999999993px"></div>
<div class="ln" style="left:976.9px;top:520.2px;width:1.2px;height:180.0999999999999px"></div>
<div class="c h tt" style="left:21.5px;width:956.0px;top:523.2px">Boresight Calibration</div>
<div class="c h" style="left:21.5px;width:135.0px;top:559.4px">Channel A</div>
<div class="c h" style="left:156.5px;width:134.25px;top:559.4px">Cloudpro (rad)</div>
<div class="c h" style="left:290.75px;width:134.5px;top:559.4px">Iterasi 1 (deg)</div>
<div class="c h" style="left:425.25px;width:134.25px;top:536.9px">Iterasi</div>
<div class="c h" style="left:425.25px;width:134.25px;top:559.4px">1 (rad)</div>
<div class="c h" style="left:559.5px;width:125.25px;top:559.4px">Iterasi 2 (deg)</div>
<div class="c h" style="left:684.75px;width:169.0px;top:536.9px">Iterasi</div>
<div class="c h" style="left:684.75px;width:169.0px;top:559.4px">2 (rad)</div>
<div class="c h" style="left:853.75px;width:123.75px;top:559.4px">final value (rad)</div>
<div class="c h" style="left:21.5px;width:135.0px;top:639.9px">Channel B</div>
<div class="c h" style="left:156.5px;width:134.25px;top:639.9px">Cloudpro</div>
<div class="c h" style="left:290.75px;width:134.5px;top:639.9px">Iterasi 1 (deg)</div>
<div class="c h" style="left:425.25px;width:134.25px;top:617.4px">Iterasi</div>
<div class="c h" style="left:425.25px;width:134.25px;top:639.9px">1 (rad)</div>
<div class="c h" style="left:559.5px;width:125.25px;top:639.9px">Iterasi 2 (deg)</div>
<div class="c h" style="left:684.75px;width:169.0px;top:617.4px">Iterasi</div>
<div class="c h" style="left:684.75px;width:169.0px;top:639.9px">2 (rad)</div>
<div class="c h" style="left:853.75px;width:123.75px;top:639.9px">final value (rad)</div>
<div class="c" style="left:29.0px;top:574.0px">Roll</div>
<div class="c r" style="left:156.5px;width:126.75px;top:574.0px">0.001577359</div>
<div class="c r" style="left:290.75px;width:127.0px;top:574.0px">-0.00491958</div>
<div class="c r" style="left:425.25px;width:126.75px;top:574.0px">-0.00008586287</div>
<div class="c r" style="left:559.5px;width:117.75px;top:574.0px">0.00286556</div>
<div class="c r" style="left:684.75px;width:161.5px;top:574.0px">0.000050013457</div>
<div class="c r" style="left:853.75px;width:116.25px;top:574.0px">0.0015415096</div>
<div class="c" style="left:29.0px;top:588.6999999999999px">Pitch</div>
<div class="c r" style="left:156.5px;width:126.75px;top:588.6999999999999px">-0.00003621460</div>
<div class="c r" style="left:290.75px;width:127.0px;top:588.6999999999999px">0.08164123</div>
<div class="c r" style="left:425.25px;width:126.75px;top:588.6999999999999px">0.00142490827</div>
<div class="c r" style="left:559.5px;width:117.75px;top:588.6999999999999px">0.01767294</div>
<div class="c r" style="left:684.75px;width:161.5px;top:588.6999999999999px">0.000308450992</div>
<div class="c r" style="left:853.75px;width:116.25px;top:588.6999999999999px">0.0016971447</div>
<div class="c" style="left:29.0px;top:603.6999999999999px">Heading</div>
<div class="c r" style="left:156.5px;width:126.75px;top:603.6999999999999px">0.001126198</div>
<div class="c r" style="left:290.75px;width:127.0px;top:603.6999999999999px">0.00288251</div>
<div class="c r" style="left:425.25px;width:126.75px;top:603.6999999999999px">0.00005030929</div>
<div class="c r" style="left:559.5px;width:117.75px;top:603.6999999999999px">-0.02367718</div>
<div class="c r" style="left:684.75px;width:161.5px;top:603.6999999999999px">-0.000413244749</div>
<div class="c r" style="left:853.75px;width:116.25px;top:603.6999999999999px">0.0007632621</div>
<div class="c" style="left:29.0px;top:654.8px">Roll</div>
<div class="c r" style="left:156.5px;width:126.75px;top:654.8px">0.001527846</div>
<div class="c r" style="left:290.75px;width:127.0px;top:654.8px">-0.00524645</div>
<div class="c r" style="left:425.25px;width:126.75px;top:654.8px">-0.000091567826541</div>
<div class="c r" style="left:559.5px;width:117.75px;top:654.8px">0.0026442</div>
<div class="c r" style="left:684.75px;width:161.5px;top:654.8px">0.00004614999608</div>
<div class="c r" style="left:853.75px;width:116.25px;top:654.8px">0.0014824282</div>
<div class="c" style="left:29.0px;top:672.6999999999999px">Pitch</div>
<div class="c r" style="left:156.5px;width:126.75px;top:672.6999999999999px">0.000210542</div>
<div class="c r" style="left:290.75px;width:127.0px;top:672.6999999999999px">0.08332471</div>
<div class="c r" style="left:425.25px;width:126.75px;top:672.6999999999999px">0.001454290537769</div>
<div class="c r" style="left:559.5px;width:117.75px;top:672.6999999999999px">0.01725699</div>
<div class="c r" style="left:684.75px;width:161.5px;top:672.6999999999999px">0.00030119129448</div>
<div class="c r" style="left:853.75px;width:116.25px;top:672.6999999999999px">0.0019660236</div>
<div class="c" style="left:29.0px;top:687.6999999999999px">Heading</div>
<div class="c r" style="left:156.5px;width:126.75px;top:687.6999999999999px">0.001057572</div>
<div class="c r" style="left:290.75px;width:127.0px;top:687.6999999999999px">0.00412253</div>
<div class="c r" style="left:425.25px;width:126.75px;top:687.6999999999999px">0.000071951722012</div>
<div class="c r" style="left:559.5px;width:117.75px;top:687.6999999999999px">-0.02137923</div>
<div class="c r" style="left:684.75px;width:161.5px;top:687.6999999999999px">-0.00037313795504</div>
<div class="c r" style="left:853.75px;width:116.25px;top:687.6999999999999px">0.0007563861</div>
</div>
</body></html>
